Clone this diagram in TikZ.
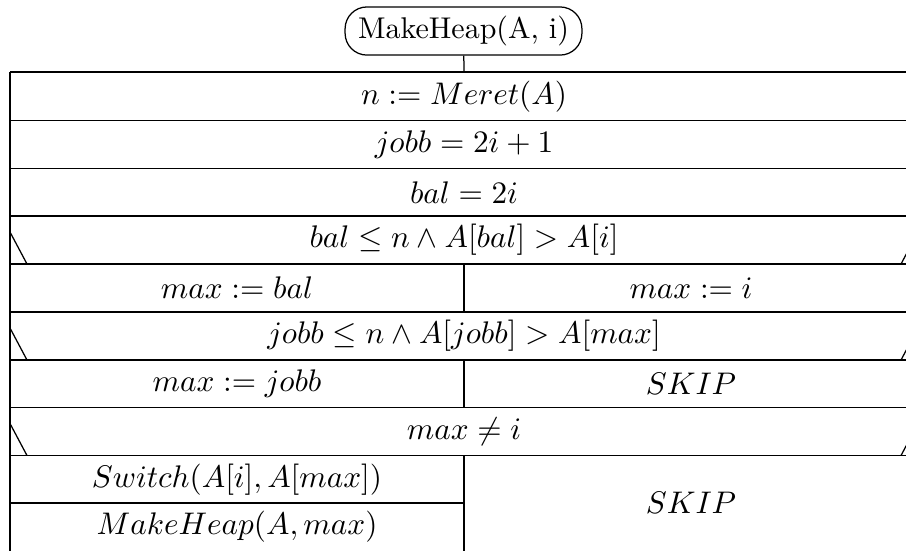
\documentclass[tikz,border=0pt]{standalone}
\usepackage{amsmath,amssymb}

\begin{document}
\begin{tikzpicture}[x=0.32pt,y=-0.32pt,line width=0.4pt,
    head/.style={draw,rounded corners=7pt,minimum width=75.8pt,minimum height=15.4pt,inner sep=0pt,
      font=\fontsize{9.6}{11}\selectfont},
    cell/.style={inner sep=0pt}]
  \path[use as bounding box,clip] (0,0) rectangle (906,550);

  % Header of the structogram.
  \node[head] (title) at (463.5,31) {MakeHeap(A, i)};
  \coordinate (top) at (464,72);
  \draw (title) -- (top);

  % Frame and full-width rows.
  \draw (10,72) -- (10,560);
  \draw (918,72) -- (918,560);
  \foreach \y in {72,120.5,168.3,216,264,312,360,407.5,455.3}
    \draw (10,\y) -- (918,\y);
  \draw (10,503) -- (464,503);

  % Branch separators.
  \draw (464,264) -- (464,312);
  \draw (464,360) -- (464,407.5);
  \draw (464,455.3) -- (464,560);

  % Condition marks.
  \foreach \y in {216,312,407.5} {
    \draw (10,\y+16) -- (27,\y+48);
    \draw (901,\y+48) -- (918,\y+16);
  }

  % Statements.
  \node[cell] (meret) at (464,96.3) {$n := Meret(A)$};
  \node[cell] (jobb) at (464,144.4) {$jobb = 2i+1$};
  \node[cell] (bal) at (464,192.2) {$bal = 2i$};
  \node[cell] (ifbal) at (464,240) {$bal \leq n \land A[bal] > A[i]$};
  \node[cell] (maxbal) at (237,288) {$max := bal$};
  \node[cell] (maxi) at (691,288) {$max := i$};
  \node[cell] (ifjobb) at (464,336) {$jobb \leq n \land A[jobb] > A[max]$};
  \node[cell] (maxjobb) at (237,383.8) {$max := jobb$};
  \node[cell] (skipa) at (691,383.8) {$SKIP$};
  \node[cell] (ifmax) at (464,431.4) {$max \neq i$};
  \node[cell] (switch) at (237,479.2) {$Switch(A[i],A[max])$};
  \node[cell] (rec) at (237,526.8) {$MakeHeap(A,max)$};
  \node[cell] (skipb) at (691,503) {$SKIP$};
\end{tikzpicture}
\end{document}
